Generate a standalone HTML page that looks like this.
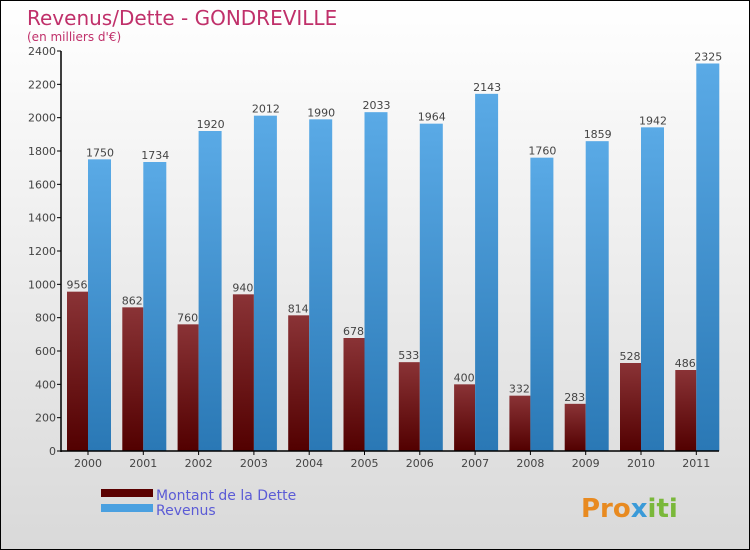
<!DOCTYPE html>
<html><head><meta charset="utf-8"><style>
body{margin:0;}
#wrap{position:relative;width:748px;height:548px;border:1px solid #000;background:linear-gradient(#fff,#d9d9d9);font-family:"DejaVu Sans","Liberation Sans",sans-serif;overflow:hidden}
text{font-family:"DejaVu Sans","Liberation Sans",sans-serif}
</style></head><body>
<div id="wrap">
<svg id="svg" width="748" height="548">
<defs>
<linearGradient id="gd" x1="0" y1="0" x2="0" y2="1"><stop offset="0" stop-color="#8a3336"/><stop offset="1" stop-color="#520000"/></linearGradient>
<linearGradient id="gr" x1="0" y1="0" x2="0" y2="1"><stop offset="0" stop-color="#5aaae6"/><stop offset="1" stop-color="#2a78b5"/></linearGradient>
</defs>
<text x="26" y="24" font-size="20" fill="#c0306a">Revenus/Dette - GONDREVILLE</text>
<text x="26" y="40" font-size="12" fill="#c0306a">(en milliers d'€)</text>
<g id="plot"></g>
<g>
<rect x="100" y="488" width="52" height="8" fill="#5a0000"/>
<text x="155" y="499" font-size="14" fill="#5b5bd6">Montant de la Dette</text>
<rect x="100" y="503" width="52" height="8" fill="#4aa0e0"/>
<text x="155" y="514" font-size="14" fill="#5b5bd6">Revenus</text>
</g>
<text x="580" y="516" font-size="26" font-weight="bold" fill="#e88a20">Pro<tspan fill="#3a9ad8">x</tspan><tspan fill="#7ab83a">iti</tspan></text>
</svg>
</div>
<script>
const years=["2000","2001","2002","2003","2004","2005","2006","2007","2008","2009","2010","2011"];
const dette=[956,862,760,940,814,678,533,400,332,283,528,486];
const revenus=[1750,1734,1920,2012,1990,2033,1964,2143,1760,1859,1942,2325];
const yTicks=[0,200,400,600,800,1000,1200,1400,1600,1800,2000,2200,2400];
const NS="http://www.w3.org/2000/svg";
const g=document.getElementById('plot');
const y=v=>450-v*400/2400;
const x0=i=>66+i*55.3;
function mk(t,a,p){const e=document.createElementNS(NS,t);for(const k in a)e.setAttribute(k,a[k]);(p||g).appendChild(e);return e;}
yTicks.forEach(v=>{
  const l=mk('line',{x1:56,x2:60,y1:y(v),y2:y(v),stroke:'#000'});
  
  
  const t=mk('text',{x:55,y:y(v)+4,'font-size':11,'text-anchor':'end',fill:'#444'});
  t.textContent=v;
  
  
});
years.forEach((yr,i)=>{
  const bx=x0(i);
  const d=mk('rect',{x:bx,y:y(dette[i]),width:21,height:450-y(dette[i]),fill:'url(#gd)'});
  
  
  const r=mk('rect',{x:bx+21,y:y(revenus[i]),width:23,height:450-y(revenus[i]),fill:'url(#gr)'});
  
  
  const dl=mk('text',{x:bx+10,y:y(dette[i])-3,'font-size':11,'text-anchor':'middle',fill:'#444'});
  dl.textContent=dette[i];
  
  
  const rl=mk('text',{x:bx+33,y:y(revenus[i])-3,'font-size':11,'text-anchor':'middle',fill:'#444'});
  rl.textContent=revenus[i];
  
  
  const tk=mk('line',{x1:bx+21,x2:bx+21,y1:450,y2:454,stroke:'#000'});
  
  
  const xl=mk('text',{x:bx+21,y:466,'font-size':11,'text-anchor':'middle',fill:'#444'});
  xl.textContent=yr;
  
  
});
const ya=mk('line',{x1:60,x2:60,y1:50,y2:451,stroke:'#000','stroke-width':1.5});


const xa=mk('line',{x1:60,x2:718,y1:450,y2:450,stroke:'#000','stroke-width':1.5});


</script>
</body></html>
